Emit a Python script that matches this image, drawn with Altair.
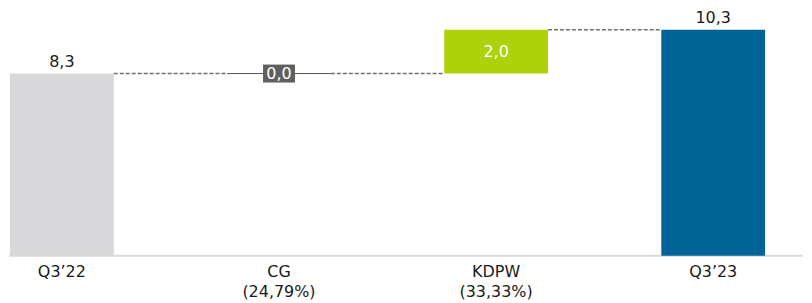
import altair as alt
import pandas as pd

categories = ["Q3’22", "CG", "KDPW", "Q3’23"]
axis_labels = ["Q3’22", "CG|(24,79%)", "KDPW|(33,33%)", "Q3’23"]
values = [8.3, 0.0, 2.0, 10.3]
kinds = ["total", "delta", "delta", "total"]
colors = ["#d8d8da", "#5f5f5f", "#add20a", "#006496"]

# waterfall start / end
starts, ends = [], []
running = 0.0
for v, k in zip(values, kinds):
    if k == "total":
        starts.append(0.0)
        ends.append(v)
        running = v
    else:
        starts.append(running)
        running = running + v
        ends.append(running)

df = pd.DataFrame({
    "cat": categories,
    "start": starts,
    "end": ends,
    "value": values,
    "color": colors,
    "label": [f"{v:.1f}".replace(".", ",") for v in values],
    "mid": [(s + e) / 2 for s, e in zip(starts, ends)],
})
df["lab_pos"] = ["above" if k == "total" else ("box" if v == 0 else "inside") for v, k in zip(values, kinds)]

conn = pd.DataFrame({
    "from": categories[:-1],
    "to": categories[1:],
    "level": ends[:-1],
})

label_map = "{" + ",".join(f"'{c}':'{l}'" for c, l in zip(categories, axis_labels)) + "}"

xscale = alt.Scale(domain=categories, range=[1, 758], paddingInner=0.522, paddingOuter=0)
yscale = alt.Scale(domain=[0, 11.27], nice=False, zero=True)

FONT = "DejaVu Sans"

x_axis = alt.Axis(
    title=None, domain=False, ticks=False, labelAngle=0,
    labelFont=FONT, labelFontSize=16, labelColor="#1a1a1a",
    labelPadding=8, labelLineHeight=20,
    labelExpr=f"split({label_map}[datum.label], '|')",
)

base = alt.Chart(df)

baseline = alt.Chart(pd.DataFrame({"y": [0]})).mark_rule(color="#dadada", strokeWidth=2).encode(
    y=alt.Y("y:Q", scale=yscale, axis=None),
    x=alt.value(0),
    x2=alt.value(796),
)

bars = base.transform_filter("datum.value != 0").mark_bar().encode(
    x=alt.X("cat:N", scale=xscale, axis=x_axis, sort=categories),
    y=alt.Y("start:Q", scale=yscale, axis=None),
    y2="end:Q",
    color=alt.Color("color:N", scale=None),
)

zero_line = base.transform_filter("datum.value == 0").mark_rule(color="#555555", strokeWidth=1).encode(
    x=alt.X("cat:N", scale=xscale, bandPosition=0),
    x2=alt.X2("cat:N", bandPosition=1),
    y=alt.Y("end:Q", scale=yscale),
)

connectors = alt.Chart(conn).mark_rule(color="#707070", strokeWidth=1.5, strokeDash=[4, 2]).encode(
    x=alt.X("from:N", scale=xscale, bandPosition=1),
    x2=alt.X2("to:N", bandPosition=0),
    y=alt.Y("level:Q", scale=yscale),
)

box = base.transform_filter("datum.lab_pos == 'box'").mark_point(
    shape="M-1,-0.5625L1,-0.5625L1,0.5625L-1,0.5625Z", size=1024, filled=True, opacity=1, strokeWidth=0,
).encode(
    x=alt.X("cat:N", scale=xscale),
    y=alt.Y("end:Q", scale=yscale),
    color=alt.Color("color:N", scale=None),
)

text_above = base.transform_filter("datum.lab_pos == 'above'").mark_text(
    font=FONT, fontSize=16, color="#1a1a1a", baseline="alphabetic", dy=-7,
).encode(
    x=alt.X("cat:N", scale=xscale),
    y=alt.Y("end:Q", scale=yscale),
    text="label:N",
)

text_inside = base.transform_filter("datum.lab_pos != 'above'").mark_text(
    font=FONT, fontSize=16, color="#ffffff", baseline="middle",
).encode(
    x=alt.X("cat:N", scale=xscale),
    y=alt.Y("mid:Q", scale=yscale),
    text="label:N",
)

chart = alt.layer(
    baseline, bars, zero_line, connectors, box, text_above, text_inside
).properties(
    width=796, height=248, padding=0,
).configure_view(stroke=None)

chart.save("out.html", embed_options={"renderer": "svg", "actions": False})
